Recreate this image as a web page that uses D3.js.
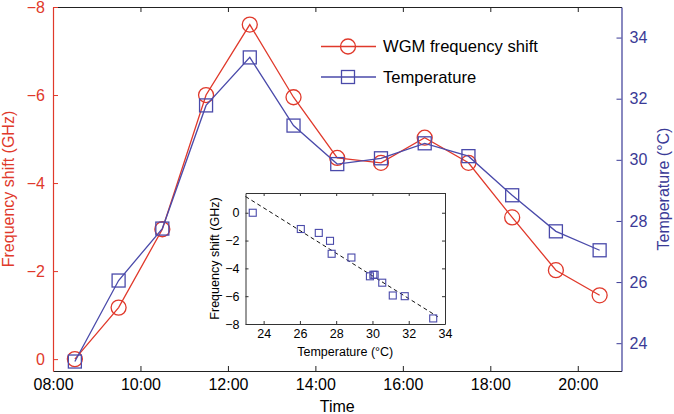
<!DOCTYPE html>
<html>
<head>
<meta charset="utf-8">
<script src="https://cdn.jsdelivr.net/npm/d3@7"></script>
<style>
  body { margin: 0; background: #fff; }
  svg { display: block; font-family: "Liberation Sans", Arial, Helvetica, sans-serif; }
</style>
</head>
<body>
<svg id="chart" width="674" height="414"></svg>
<script>
// ---- data ----
const times = ["08:30","09:30","10:30","11:30","12:30","13:30","14:30","15:30","16:30","17:30","18:30","19:30","20:30"];
const freqShift = [0, -1.17, -2.95, -6.0, -7.6, -5.95, -4.57, -4.46, -5.03, -4.46, -3.22, -2.02, -1.45];
const temperature = [23.4, 26.05, 27.75, 31.78, 33.35, 31.12, 29.86, 30.05, 30.54, 30.12, 28.84, 27.66, 27.04];
const freqTicks = [0, -2, -4, -6, -8];
const tempTicks = [24, 26, 28, 30, 32, 34];
const timeTicks = ["08:00","10:00","12:00","14:00","16:00","18:00","20:00"];
const insetXTicks = [24, 26, 28, 30, 32, 34];
const insetYTicks = [0, -2, -4, -6, -8];
const seriesNames = ["WGM frequency shift", "Temperature"];

const RED = "#e0392b", BLUE_AX = "#3a3a96", BLUE = "#4a4aaa";

const svg = d3.select("#chart");
const W = 674, H = 414;
const m = {left: 53, right: 52.5, top: 7, bottom: 43};
const x0 = m.left, x1 = W - m.right, y0 = H - m.bottom, y1 = m.top;

const parse = d3.timeParse("%H:%M");
const x = d3.scaleTime().domain([parse("08:00"), parse("21:00")]).range([x0, x1]);
const yF = d3.scaleLinear().domain([0.27, -8]).range([y0, y1]);
const yT = d3.scaleLinear().domain([23.09, 35.0]).range([y0, y1]);

const FS = 16;

// bottom axis
const gx = svg.append("g").attr("transform", `translate(0,${y0})`)
  .call(d3.axisBottom(x).tickValues(timeTicks.map(parse)).tickFormat(d3.timeFormat("%H:%M"))
        .tickSizeInner(-5).tickSizeOuter(0).tickPadding(8));
gx.select(".domain").attr("stroke", "#222").attr("stroke-width", 1.2);
gx.selectAll(".tick line").attr("stroke", "#222");
gx.selectAll("text").attr("font-size", FS).attr("fill", "#000").attr("font-family", null);

// top border
const gt = svg.append("g").attr("transform", `translate(0,${y1})`)
  .call(d3.axisTop(x).tickValues(timeTicks.map(parse)).tickFormat("").tickSizeInner(-5).tickSizeOuter(0));
gt.select(".domain").attr("stroke", "#222").attr("stroke-width", 1.2);
gt.selectAll(".tick line").attr("stroke", "#222");

// left axis
const gl = svg.append("g").attr("transform", `translate(${x0},0)`)
  .call(d3.axisLeft(yF).tickValues(freqTicks).tickSizeInner(-5).tickSizeOuter(0).tickPadding(8));
gl.select(".domain").attr("stroke", RED).attr("stroke-width", 1.2);
gl.selectAll(".tick line").attr("stroke", RED);
gl.selectAll("text").attr("font-size", FS).attr("fill", RED).attr("font-family", null);

// right axis
const gr = svg.append("g").attr("transform", `translate(${x1},0)`)
  .call(d3.axisRight(yT).tickValues(tempTicks).tickSizeInner(-5).tickSizeOuter(0).tickPadding(8));
gr.select(".domain").attr("stroke", BLUE_AX).attr("stroke-width", 1.2);
gr.selectAll(".tick line").attr("stroke", BLUE_AX);
gr.selectAll("text").attr("font-size", FS).attr("fill", BLUE_AX).attr("font-family", null);

// axis titles
svg.append("text").attr("x", (x0 + x1) / 2).attr("y", 412).attr("text-anchor", "middle")
  .attr("font-size", FS).text("Time");
svg.append("text").attr("transform", `translate(14,${(y0 + y1) / 2}) rotate(-90)`)
  .attr("text-anchor", "middle").attr("font-size", FS).attr("fill", RED).text("Frequency shift (GHz)");
svg.append("text").attr("transform", `translate(669,${(y0 + y1) / 2}) rotate(-90)`)
  .attr("text-anchor", "middle").attr("font-size", FS).attr("fill", BLUE_AX).text("Temperature (°C)");

// series
const dataF = times.map((t, i) => ({t: parse(t), v: freqShift[i]}));
const dataT = times.map((t, i) => ({t: parse(t), v: temperature[i]}));

svg.append("path").datum(dataF).attr("fill", "none").attr("stroke", RED).attr("stroke-width", 1.3)
  .attr("d", d3.line().x(d => x(d.t)).y(d => yF(d.v)));
svg.selectAll("circle.f").data(dataF).join("circle").attr("class", "f")
  .attr("cx", d => x(d.t)).attr("cy", d => yF(d.v)).attr("r", 7.5)
  .attr("fill", "none").attr("stroke", RED).attr("stroke-width", 1.3);

svg.append("path").datum(dataT).attr("fill", "none").attr("stroke", BLUE).attr("stroke-width", 1.3)
  .attr("d", d3.line().x(d => x(d.t)).y(d => yT(d.v)));
const sq = 13;
svg.selectAll("rect.t").data(dataT).join("rect").attr("class", "t")
  .attr("x", d => x(d.t) - sq / 2).attr("y", d => yT(d.v) - sq / 2).attr("width", sq).attr("height", sq)
  .attr("fill", "none").attr("stroke", BLUE).attr("stroke-width", 1.3);

// legend
const lg = svg.append("g");
const lx0 = 321, lx1 = 376, lcx = 348;
[46.5, 77].forEach((ly, i) => {
  const col = i === 0 ? RED : BLUE;
  lg.append("line").attr("x1", lx0).attr("x2", lx1).attr("y1", ly).attr("y2", ly)
    .attr("stroke", col).attr("stroke-width", 1.3);
  if (i === 0) {
    lg.append("circle").attr("cx", lcx).attr("cy", ly).attr("r", 7.5)
      .attr("fill", "none").attr("stroke", col).attr("stroke-width", 1.3);
  } else {
    lg.append("rect").attr("x", lcx - sq / 2).attr("y", ly - sq / 2).attr("width", sq).attr("height", sq)
      .attr("fill", "none").attr("stroke", col).attr("stroke-width", 1.3);
  }
  lg.append("text").attr("x", 383).attr("y", ly + 5.8).attr("font-size", 16.6).attr("fill", "#000")
    .text(seriesNames[i]);
});

// ---- inset ----
const ix0 = 245.5, ix1 = 445, iy0 = 324, iy1 = 193;
const ixs = d3.scaleLinear().domain([23, 34]).range([ix0, ix1]);
const iys = d3.scaleLinear().domain([-8, 1.42]).range([iy0, iy1]);
const IFS = 12.5, IC = "#333";

svg.append("rect").attr("x", ix0).attr("y", iy1).attr("width", ix1 - ix0).attr("height", iy0 - iy1)
  .attr("fill", "#fff").attr("stroke", "none");

function styleInset(g) {
  g.select(".domain").attr("stroke", IC).attr("stroke-width", 1);
  g.selectAll(".tick line").attr("stroke", IC);
  g.selectAll("text").attr("font-size", IFS).attr("fill", "#000").attr("font-family", null);
}
const ib = svg.append("g").attr("transform", `translate(0,${iy0})`)
  .call(d3.axisBottom(ixs).tickValues(insetXTicks).tickSizeInner(-3).tickSizeOuter(0).tickPadding(5));
styleInset(ib);
const it = svg.append("g").attr("transform", `translate(0,${iy1})`)
  .call(d3.axisTop(ixs).tickValues(insetXTicks).tickFormat("").tickSizeInner(-3).tickSizeOuter(0));
styleInset(it);
const il = svg.append("g").attr("transform", `translate(${ix0},0)`)
  .call(d3.axisLeft(iys).tickValues(insetYTicks).tickSizeInner(-3).tickSizeOuter(0).tickPadding(6));
styleInset(il);
const ir = svg.append("g").attr("transform", `translate(${ix1},0)`)
  .call(d3.axisRight(iys).tickValues(insetYTicks).tickFormat("").tickSizeInner(-3).tickSizeOuter(0));
styleInset(ir);

svg.append("text").attr("x", (ix0 + ix1) / 2).attr("y", 356).attr("text-anchor", "middle")
  .attr("font-size", IFS).text("Temperature (°C)");
svg.append("text").attr("transform", `translate(219,${(iy0 + iy1) / 2}) rotate(-90)`)
  .attr("text-anchor", "middle").attr("font-size", IFS).text("Frequency shift (GHz)");

// linear fit (least squares) through inset points
const mT = d3.mean(temperature), mF = d3.mean(freqShift);
const slope = d3.sum(temperature.map((t, i) => (t - mT) * (freqShift[i] - mF))) /
              d3.sum(temperature.map(t => (t - mT) ** 2));
const icpt = mF - slope * mT;
const fitRange = [23, 33.6];
svg.append("line")
  .attr("x1", ixs(fitRange[0])).attr("y1", iys(icpt + slope * fitRange[0]))
  .attr("x2", ixs(fitRange[1])).attr("y2", iys(icpt + slope * fitRange[1]))
  .attr("stroke", "#111").attr("stroke-width", 1).attr("stroke-dasharray", "4,3");

const isq = 7;
svg.selectAll("rect.ip").data(temperature.map((t, i) => ({t, f: freqShift[i]}))).join("rect")
  .attr("class", "ip")
  .attr("x", d => ixs(d.t) - isq / 2).attr("y", d => iys(d.f) - isq / 2)
  .attr("width", isq).attr("height", isq)
  .attr("fill", "none").attr("stroke", BLUE).attr("stroke-width", 1.1);
</script>
</body>
</html>
